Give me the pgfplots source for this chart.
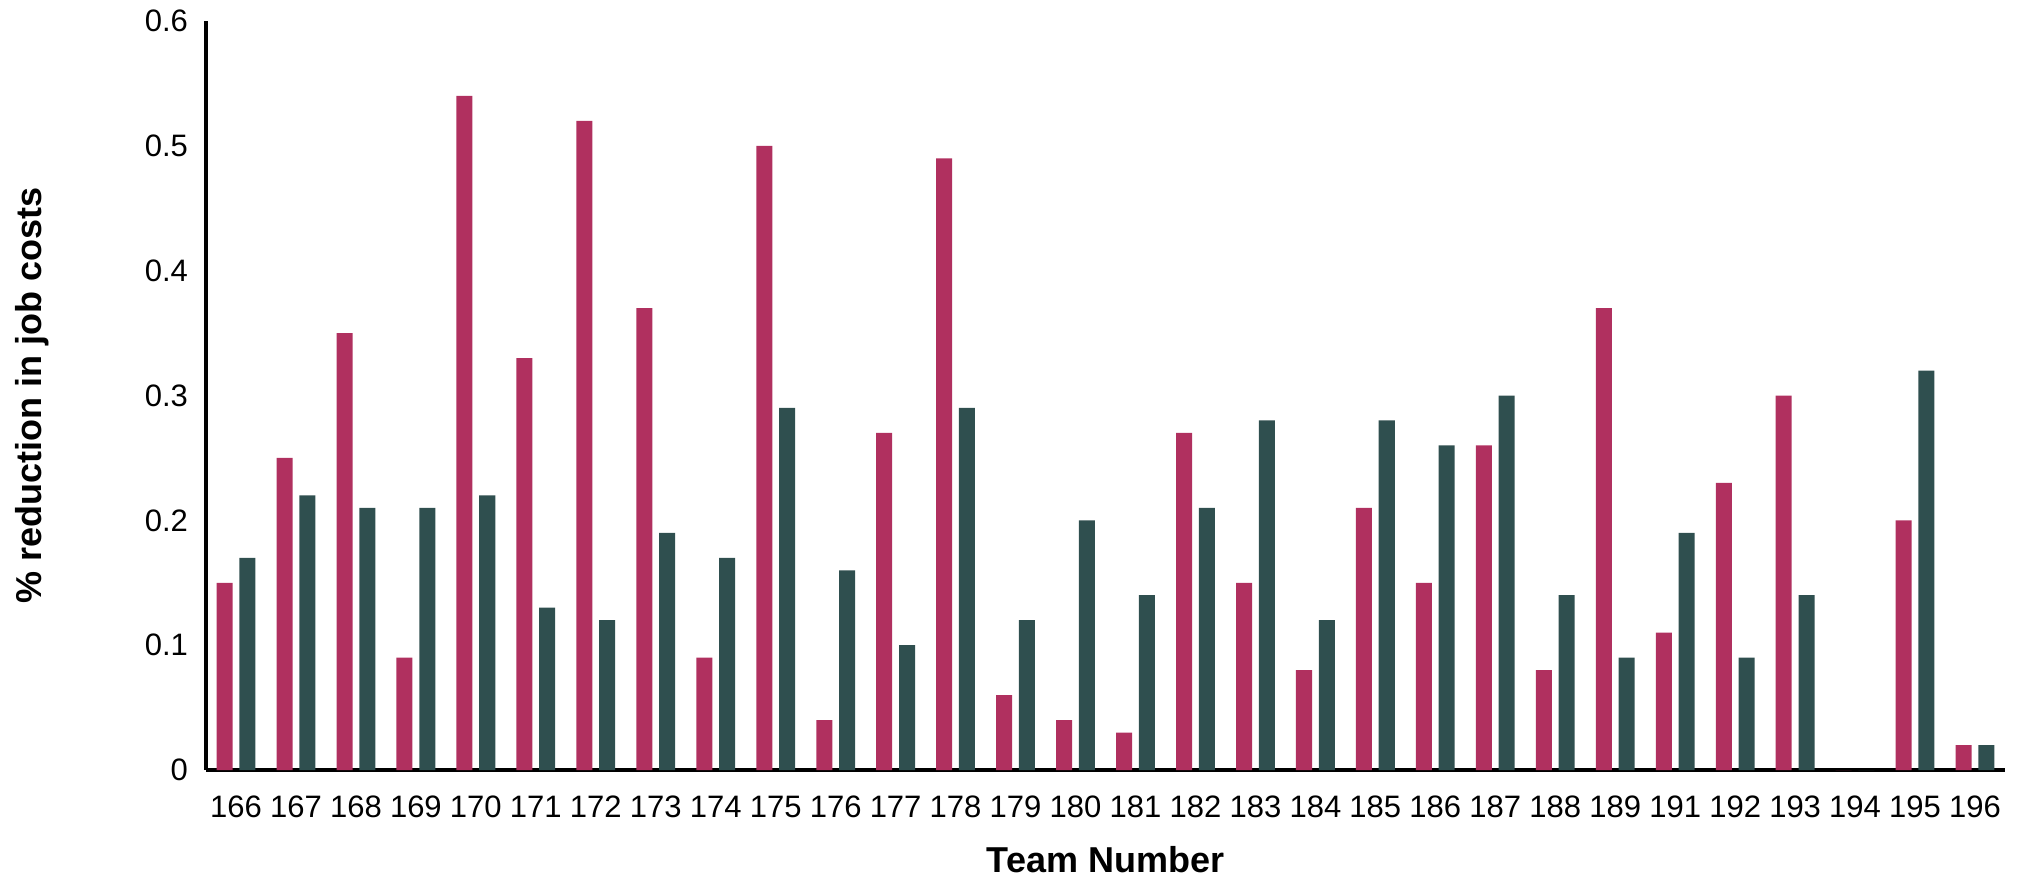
\documentclass[border=0pt]{standalone}
\usepackage{pgfplots}
\pgfplotsset{compat=1.18}
\usepackage{fontspec}
\setmainfont{Liberation Sans}
\definecolor{barpink}{HTML}{B0305F}
\definecolor{bargreen}{HTML}{2F4F4F}
\begin{document}
\begin{tikzpicture}
\begin{axis}[
  at={(0,0)}, anchor=south west,
  scale only axis, width=899.5pt, height=374.5pt,
  xmin=-0.5, xmax=29.5, ymin=0, ymax=0.6,
  axis lines=left, axis line style={-, line width=1.6pt, black},
  xtick=data,
  xticklabels={166,167,168,169,170,171,172,173,174,175,176,177,178,179,180,181,182,183,184,185,186,187,188,189,191,192,193,194,195,196},
  ytick={0,0.1,0.2,0.3,0.4,0.5,0.6},
  yticklabels={0,0.1,0.2,0.3,0.4,0.5,0.6},
  major tick length=0pt,
  tick label style={font=\fontsize{15.5}{18}\selectfont},
  xticklabel style={yshift=-9.5pt},
  yticklabel style={xshift=-5.5pt},
  xlabel={\textbf{Team Number}},
  ylabel={\textbf{\% reduction in job costs}},
  label style={font=\fontsize{18}{21}\selectfont},
  xlabel style={at={(axis description cs:0.5,-0.12)}, anchor=center},
  ylabel style={at={(axis description cs:-0.0967,0.5)}, anchor=center},
  ybar, bar width=0.267,
  clip=false,
]
\addplot[draw=none, fill=barpink, bar shift=-0.19] coordinates {
(0,0.15) (1,0.25) (2,0.35) (3,0.09) (4,0.54) (5,0.33) (6,0.52) (7,0.37) (8,0.09) (9,0.50)
(10,0.04) (11,0.27) (12,0.49) (13,0.06) (14,0.04) (15,0.03) (16,0.27) (17,0.15) (18,0.08) (19,0.21)
(20,0.15) (21,0.26) (22,0.08) (23,0.37) (24,0.11) (25,0.23) (26,0.30) (27,0) (28,0.20) (29,0.02)};
\addplot[draw=none, fill=bargreen, bar shift=0.19] coordinates {
(0,0.17) (1,0.22) (2,0.21) (3,0.21) (4,0.22) (5,0.13) (6,0.12) (7,0.19) (8,0.17) (9,0.29)
(10,0.16) (11,0.10) (12,0.29) (13,0.12) (14,0.20) (15,0.14) (16,0.21) (17,0.28) (18,0.12) (19,0.28)
(20,0.26) (21,0.30) (22,0.14) (23,0.09) (24,0.19) (25,0.09) (26,0.14) (27,0) (28,0.32) (29,0.02)};
\end{axis}
\pgfresetboundingbox
\path[use as bounding box] (-103pt,-54pt) rectangle (919pt,385pt);
\end{tikzpicture}
\end{document}
